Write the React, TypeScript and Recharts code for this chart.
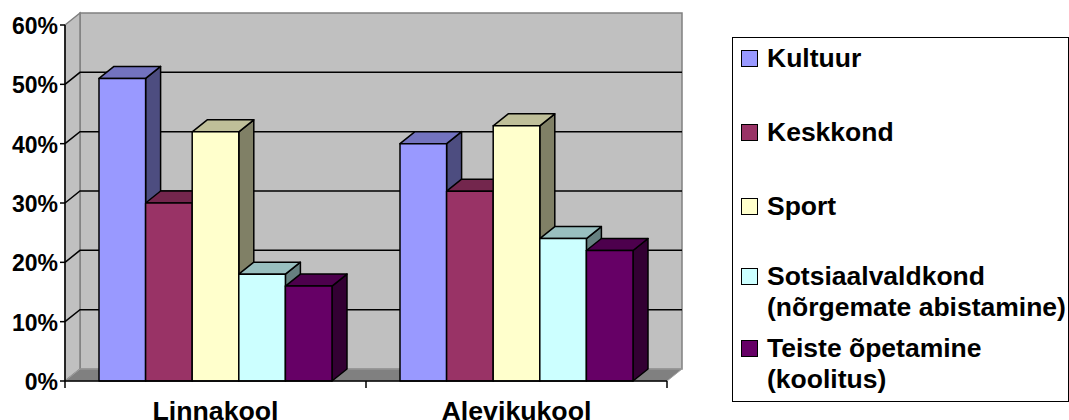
import React from "react";
import { BarChart, Bar, XAxis, YAxis, Legend, usePlotArea } from "recharts";

const categories = ["Linnakool", "Alevikukool"];
const seriesNames = [
  "Kultuur",
  "Keskkond",
  "Sport",
  "Sotsiaalvaldkond\n(nõrgemate abistamine)",
  "Teiste õpetamine\n(koolitus)",
];
const kultuur = [51, 40];
const keskkond = [30, 32];
const sport = [42, 43];
const sotsiaal = [18, 24];
const teiste = [16, 22];
const yTicks = [0, 10, 20, 30, 40, 50, 60];

const seriesValues = [kultuur, keskkond, sport, sotsiaal, teiste];
const seriesColors = ["#9999ff", "#993366", "#ffffcc", "#ccffff", "#660066"];
const legendRowTops = [8, 82, 156, 226, 298];

const data = categories.map((name, i) => {
  const row: Record<string, string | number> = { name };
  seriesValues.forEach((vals, s) => (row[`s${s}`] = vals[i]));
  return row;
});

const DX = 15;
const DY = 12;
const FONT = "'Liberation Sans', Arial, sans-serif";

function shade(hex: string, k: number) {
  const n = parseInt(hex.slice(1), 16);
  const c = [(n >> 16) & 255, (n >> 8) & 255, n & 255].map((v) => Math.round(v * k));
  return `rgb(${c[0]},${c[1]},${c[2]})`;
}

function Bar3D(props: any) {
  const { x, y, width, height, fill } = props;
  const line = { stroke: "#000", strokeWidth: 1.5, strokeLinejoin: "round" as const };
  return (
    <g>
      <polygon
        points={`${x + width},${y} ${x + width + DX},${y - DY} ${x + width + DX},${y + height - DY} ${x + width},${y + height}`}
        fill={shade(fill, 0.5)}
        {...line}
      />
      <polygon
        points={`${x},${y} ${x + DX},${y - DY} ${x + width + DX},${y - DY} ${x + width},${y}`}
        fill={shade(fill, 0.75)}
        {...line}
      />
      <rect x={x} y={y} width={width} height={height} fill={fill} {...line} />
    </g>
  );
}

// back wall, side wall, floor and the gridlines behind the bars
function Walls() {
  const plot = usePlotArea();
  if (!plot) return null;
  const { x, y, width, height } = plot;
  const bottom = y + height;
  const right = x + width;
  const maxTick = yTicks[yTicks.length - 1];
  const band = width / categories.length;
  return (
    <g>
      <polygon
        points={`${x + DX},${y - DY} ${right + DX},${y - DY} ${right + DX},${bottom - DY} ${x + DX},${bottom - DY}`}
        fill="#c0c0c0"
        stroke="#808080"
        strokeWidth={1.5}
      />
      <polygon
        points={`${x},${y} ${x + DX},${y - DY} ${x + DX},${bottom - DY} ${x},${bottom}`}
        fill="#c0c0c0"
        stroke="#808080"
        strokeWidth={1.5}
      />
      <polygon
        points={`${x},${bottom} ${x + DX},${bottom - DY} ${right + DX},${bottom - DY} ${right},${bottom}`}
        fill="#808080"
        stroke="#a0a0a0"
        strokeWidth={1}
      />
      {yTicks.slice(1, -1).map((t) => {
        const ty = bottom - (height * t) / maxTick;
        return (
          <polyline
            key={t}
            points={`${x},${ty} ${x + DX},${ty - DY} ${right + DX},${ty - DY}`}
            fill="none"
            stroke="#000"
            strokeWidth={1.5}
          />
        );
      })}
      {[0, 1, 2].map((i) => (
        <line
          key={i}
          x1={x + band * i}
          x2={x + band * i}
          y1={bottom}
          y2={bottom + 7}
          stroke="#000"
          strokeWidth={1.5}
        />
      ))}
    </g>
  );
}

function LegendBox(props: any) {
  const payload = props.payload || [];
  return (
    <div
      style={{
        position: "relative",
        width: 335,
        height: 363,
        border: "1.5px solid #000",
        background: "#fff",
        fontFamily: FONT,
        fontWeight: 700,
        fontSize: 26.5,
        lineHeight: "31px",
        color: "#000",
        overflow: "visible",
        whiteSpace: "pre",
      }}
    >
      {payload.map((p: any, i: number) => (
        <div key={i} style={{ position: "absolute", left: 0, top: legendRowTops[i] }}>
          <span
            style={{
              position: "absolute",
              left: 8,
              top: 4,
              width: 15,
              height: 15,
              background: p.color,
              border: "1.5px solid #000",
            }}
          />
          <span style={{ position: "absolute", left: 34, top: -3 }}>{p.value}</span>
        </div>
      ))}
    </div>
  );
}

export default function App() {
  return (
    <div style={{ position: "absolute", left: 0, top: 0, width: 1069, height: 420, overflow: "hidden", background: "#fff" }}>
      <BarChart
        width={1069}
        height={420}
        data={data}
        margin={{ top: 25, right: 65, bottom: 0, left: 0 }}
        barSize={46.6}
        barGap={0}
      >
        <Walls />
        <XAxis
          dataKey="name"
          tickLine={false}
          axisLine={{ stroke: "#000", strokeWidth: 1.5 }}
          height={39}
          interval={0}
          tick={{ fill: "#000", fontFamily: FONT, fontWeight: 700, fontSize: 26.7 }}
          tickMargin={14}
        />
        <YAxis
          width={65}
          domain={[0, 60]}
          ticks={yTicks}
          interval={0}
          tickFormatter={(v: number) => `${v}%`}
          axisLine={{ stroke: "#000", strokeWidth: 1.5 }}
          tickLine={{ stroke: "#000", strokeWidth: 1.5 }}
          tickSize={5}
          tickMargin={2}
          tick={{ fill: "#000", fontFamily: FONT, fontWeight: 700, fontSize: 23, dy: 1 }}
        />
        {seriesNames.map((n, s) => (
          <Bar
            key={n}
            dataKey={`s${s}`}
            name={n}
            fill={seriesColors[s]}
            shape={<Bar3D />}
            isAnimationActive={false}
          />
        ))}
        <Legend
          layout="vertical"
          align="right"
          verticalAlign="top"
          itemSorter={null}
          content={<LegendBox />}
          wrapperStyle={{ position: "absolute", left: 732, top: 37, width: 337, height: 365 }}
        />
      </BarChart>
    </div>
  );
}
